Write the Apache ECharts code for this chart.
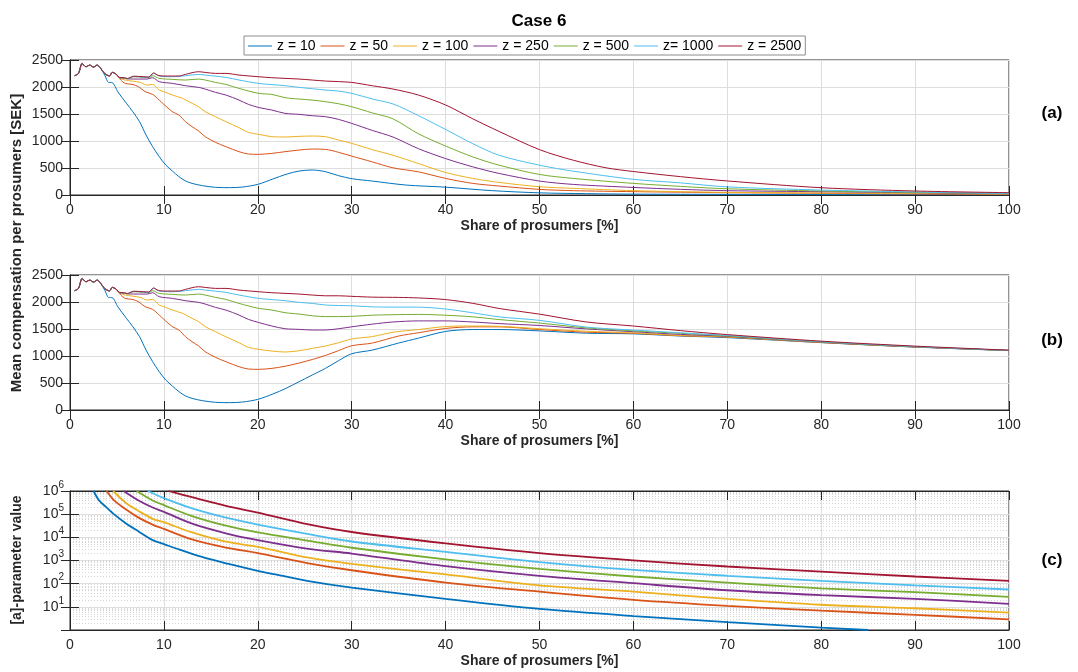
<!DOCTYPE html>
<html><head><meta charset="utf-8">
<script src="https://cdn.jsdelivr.net/npm/echarts@6/dist/echarts.min.js"></script>
<style>html,body{margin:0;padding:0;background:#fff}#chart{width:1078px;height:672px}</style>
</head><body><div id="chart"></div>
<script>
const seriesNames = ['z = 10','z = 50','z = 100','z = 250','z = 500','z= 1000','z = 2500'];
const colors = ['#0072BD','#D95319','#EDB120','#7E2F8E','#77AC30','#4DBEEE','#A2142F'];

// shared start of every curve (panels a and b)
const commonStart = [[0.5,2210],[0.9,2250],[1.3,2435],[1.7,2375],[2.1,2405],[2.5,2370],[2.9,2405],[3.2,2360]];
const mixEarly = [[3.7,2250],[4.2,2205],[4.5,2270],[4.9,2240]];

// z = 10
const z10Early = [[3.7,2220],[4.1,2085],[4.5,2080],[5.1,1910],[6.0,1700],[6.7,1540],[7.4,1360],[8.1,1110],[8.8,895],[9.5,710],[10.2,555],[10.9,445],[11.6,340],[12.3,260],[13.0,215],[14.1,173],[15.5,142],[17.0,136],[18.4,148],[20.0,197]];
const a_z10 = [[21.6,296],[23.0,383],[24.4,444],[25.8,463],[27.2,432],[28.6,358],[30.1,300],[32.2,258],[35.8,184],[40,145],[45,80],[50,40],[55,25],[60,16],[70,12],[80,7],[90,6],[100,5]];
const b_z10 = [[21.6,296],[23.0,401],[24.4,524],[25.8,648],[27.2,771],[28.6,913],[30,1042],[32.2,1110],[35,1240],[37.1,1330],[40,1455],[42.9,1490],[45.7,1490],[50,1465],[55,1422],[60,1410],[65,1370],[70,1340],[80,1248],[90,1165],[100,1100]];
// z = 50
const z50Early = [[5.4,2130],[5.9,2065],[6.6,2050],[7.3,2005],[8.0,1913],[8.8,1863],[9.5,1758],[10,1678],[10.9,1543],[11.6,1481],[12.3,1357],[13.0,1265],[13.7,1185],[14.4,1080],[15.5,975],[16.6,895],[18.0,802],[19.0,759],[20.1,753]];
const a_z50 = [[21.5,771],[22.9,802],[24.4,833],[25.8,851],[27.2,845],[28.6,790],[30,720],[32.2,613],[34.4,503],[37.1,429],[40,307],[42.9,215],[45.7,166],[50,104],[53.6,80],[60,62],[65,52],[70,43],[80,31],[90,18],[100,12]];
const b_z50 = [[21.5,771],[22.9,810],[24.4,870],[25.8,935],[27.2,1010],[28.6,1100],[30,1190],[32.2,1240],[35,1370],[37.1,1430],[40,1510],[42.9,1540],[45.7,1540],[50,1490],[55,1441],[60,1420],[65,1375],[70,1350],[80,1250],[90,1168],[100,1103]];
// z = 100
const z100Early = [[5.3,2160],[5.9,2129],[6.6,2110],[7.5,2085],[8.2,2036],[8.8,2048],[9.5,1944],[10,1913],[10.9,1851],[12.0,1789],[13.0,1697],[13.7,1635],[14.4,1543],[15.5,1450],[16.6,1357],[18.0,1246],[19.0,1160],[20.1,1123]];
const a_z100 = [[21.5,1080],[22.9,1074],[24.4,1086],[25.8,1092],[27.2,1080],[28.6,1018],[30,956],[32.2,840],[34.4,736],[37.1,583],[40,417],[42.9,307],[45.7,233],[50,153],[53.6,123],[60,80],[65,62],[70,49],[80,37],[90,31],[100,18]];
const b_z100 = [[21.5,1092],[22.9,1074],[24.4,1098],[25.8,1141],[27.2,1185],[28.6,1246],[30,1315],[32.2,1360],[34.4,1440],[37.1,1490],[40,1545],[42.9,1555],[45.7,1550],[50,1505],[55,1459],[60,1428],[65,1380],[70,1355],[80,1252],[90,1168],[100,1103]];
// z = 250
const z250Early = [[5.3,2170],[5.8,2165],[6.2,2150],[7.3,2147],[8.2,2147],[8.8,2172],[9.5,2098],[10.9,2067],[12.3,2024],[13.7,1993],[14.4,1962],[15.5,1900],[16.6,1851],[18.0,1758],[19.0,1678],[20.1,1620]];
const a_z250 = [[21.5,1573],[22.9,1512],[24.4,1493],[25.8,1468],[27.2,1450],[28.6,1400],[30,1326],[32.2,1196],[34.4,1073],[37.1,858],[40,674],[42.9,521],[45.7,399],[50,258],[53.6,196],[60,140],[65,105],[70,80],[80,61],[90,43],[100,25]];
const b_z250 = [[21.5,1555],[22.9,1505],[24.4,1493],[25.8,1481],[27.2,1481],[28.6,1505],[30,1540],[32.2,1590],[34.4,1630],[37.1,1650],[40,1650],[42.9,1630],[45.7,1600],[50,1565],[55,1502],[60,1450],[65,1400],[70,1365],[80,1256],[90,1170],[100,1103]];
// z = 500
const z500Early = [[5.3,2175],[5.8,2165],[6.1,2150],[6.8,2190],[7.8,2180],[8.4,2175],[8.8,2209],[9.5,2160],[10.9,2141],[12.3,2129],[13.7,2147],[14.4,2129],[15.5,2085],[16.6,2048],[18.0,1974],[20.1,1882]];
const a_z500 = [[21.5,1863],[22.9,1802],[24.4,1777],[25.8,1758],[27.2,1728],[28.6,1690],[30,1635],[32.2,1520],[34.4,1410],[37.1,1134],[40,907],[42.9,705],[45.7,552],[50,380],[53.6,307],[60,215],[65,160],[70,115],[80,74],[90,49],[100,31]];
const b_z500 = [[21.5,1851],[22.9,1802],[24.4,1777],[25.8,1745],[27.2,1730],[28.6,1730],[30,1735],[32.2,1755],[34.4,1765],[37.1,1770],[40,1755],[42.9,1725],[45.7,1675],[50,1610],[55,1520],[60,1465],[65,1420],[70,1372],[80,1260],[90,1172],[100,1103]];
// z = 1000
const z1000Early = [[5.3,2175],[5.8,2168],[6.1,2155],[6.8,2195],[7.8,2185],[8.4,2180],[8.9,2255],[9.4,2210],[10.0,2195],[10.9,2190],[12.3,2209],[13.7,2234],[14.4,2221],[16.6,2178],[18,2129],[20.1,2067]];
const a_z1000 = [[22.9,2024],[24.4,1993],[27.2,1944],[28.6,1925],[30,1882],[32.2,1778],[34.4,1686],[37.1,1471],[40,1214],[42.9,950],[45.7,736],[50,552],[53.6,441],[60,290],[65,225],[70,150],[80,92],[90,55],[100,25]];
const b_z1000 = [[22.9,2024],[24.4,1993],[25.8,1974],[27.2,1944],[28.6,1935],[30,1930],[32.2,1910],[34.4,1905],[37.1,1905],[40,1870],[42.9,1800],[45.7,1725],[50,1660],[55,1535],[60,1480],[65,1430],[70,1380],[80,1265],[90,1175],[100,1103]];
// z = 2500
const z2500Early = [[5.3,2175],[5.8,2170],[6.1,2158],[6.8,2200],[7.8,2190],[8.4,2185],[8.9,2260],[9.4,2215],[10,2203],[11.6,2203],[12.3,2234],[13.7,2283],[14.4,2270],[15.5,2252],[16.6,2252],[18,2221],[20.1,2190]];
const a_z2500 = [[21.5,2172],[22.9,2160],[24.4,2147],[25.8,2129],[27.2,2110],[28.6,2100],[30,2085],[32.2,2023],[34.4,1962],[37.1,1851],[40,1667],[42.9,1410],[45.7,1177],[50,840],[53.6,644],[57.1,503],[60,435],[65,340],[70,260],[80,135],[90,74],[100,43]];
const b_z2500 = [[21.5,2172],[22.9,2160],[24.4,2147],[25.8,2129],[27.2,2115],[28.6,2115],[30,2105],[32.2,2090],[35,2085],[37.1,2075],[40,2045],[42.9,1975],[45.7,1880],[50,1775],[55,1630],[60,1555],[65,1470],[70,1396],[80,1275],[90,1183],[100,1108]];

// panel (c): a-parameter values (log axis)
const c_z10 = [[2.5,1e6],[3.1,3.9e5],[3.8,2.1e5],[4.7,9.8e4],[5.9,4.2e4],[7.3,1.8e4],[8.8,7.6e3],[10,5.1e3],[11.6,3.0e3],[13,1.95e3],[14.8,1.17e3],[16.6,760],[20,355],[21.9,250],[25.4,130],[30,68],[40,22],[50,8.1],[60,4.0],[70,2.2],[80,1.26],[85,1.0]];
const c_z50 = [[3.9,1e6],[4.7,3.9e5],[5.9,1.66e5],[7.3,7.1e4],[8.8,3.55e4],[10,2.3e4],[13,8.1e3],[16.6,3.6e3],[20,2.1e3],[25.4,760],[30,380],[40,112],[50,45],[60,20],[70,11],[80,6.9],[90,4.5],[100,2.9]];
const c_z100 = [[4.6,1e6],[5.9,3.2e5],[7.3,1.38e5],[8.8,6.3e4],[10,4.5e4],[13,1.62e4],[16.6,6.5e3],[20,3.9e3],[25.4,1.32e3],[30,710],[40,250],[50,85],[60,45],[70,22],[80,12.3],[90,8.7],[100,5.6]];
const c_z250 = [[5.7,1e6],[7.3,3.9e5],[8.8,1.95e5],[10,1.26e5],[13,3.9e4],[16.6,1.5e4],[20,7.6e3],[25.4,3.2e3],[30,2.0e3],[40,575],[50,219],[60,105],[70,52],[80,32],[90,22],[100,13.5]];
const c_z500 = [[7.1,1e6],[8.8,3.9e5],[10,2.45e5],[13,8.3e4],[16.6,3.2e4],[20,1.62e4],[25.4,7.1e3],[30,3.55e3],[40,1.12e3],[50,436],[60,204],[70,112],[80,63],[90,43],[100,27]];
const c_z1000 = [[8.3,1e6],[10,4.9e5],[13,1.78e5],[16.6,7.1e4],[20,3.55e4],[25.4,1.38e4],[30,6.6e3],[40,2.35e3],[50,850],[60,390],[70,219],[80,132],[90,85],[100,56]];
const c_z2500 = [[10.5,1e6],[13,5.4e5],[16.6,2.3e5],[20,1.17e5],[25.4,3.6e4],[30,1.7e4],[40,5.5e3],[50,2.1e3],[60,1.02e3],[70,550],[80,330],[90,204],[100,132]];

const panelA = [
  commonStart.concat(z10Early, a_z10),
  commonStart.concat(mixEarly, z50Early, a_z50),
  commonStart.concat(mixEarly, z100Early, a_z100),
  commonStart.concat(mixEarly, z250Early, a_z250),
  commonStart.concat(mixEarly, z500Early, a_z500),
  commonStart.concat(mixEarly, z1000Early, a_z1000),
  commonStart.concat(mixEarly, z2500Early, a_z2500)
];
const panelB = [
  commonStart.concat(z10Early, b_z10),
  commonStart.concat(mixEarly, z50Early, b_z50),
  commonStart.concat(mixEarly, z100Early, b_z100),
  commonStart.concat(mixEarly, z250Early, b_z250),
  commonStart.concat(mixEarly, z500Early, b_z500),
  commonStart.concat(mixEarly, z1000Early, b_z1000),
  commonStart.concat(mixEarly, z2500Early, b_z2500)
];
const panelC = [c_z10, c_z50, c_z100, c_z250, c_z500, c_z1000, c_z2500];

const FONT = 'Liberation Sans, Arial, Helvetica, sans-serif';
const INK = '#262626';
const GRIDC = '#dedede';
const grids = [
  {left:70, top:60, width:939, height:135},
  {left:70, top:275, width:939, height:135},
  {left:70, top:491, width:939, height:139}
].map(g => Object.assign(g, {show:true, borderColor:INK, borderWidth:1, backgroundColor:'#fff'}));

const xAxes = [], yAxes = [];
for (let i = 0; i < 3; i++) {
  xAxes.push({type:'value', gridIndex:i, min:0, max:100, interval:10, position:'bottom',
    axisLine:{show:true, lineStyle:{color:INK}}, axisTick:{inside:true, length:9, lineStyle:{color:INK}},
    splitLine:{show:true, lineStyle:{color:GRIDC}},
    axisLabel:{fontFamily:FONT, fontSize:14, color:INK, margin:8},
    name:'Share of prosumers [%]', nameLocation:'middle', nameGap:24,
    nameTextStyle:{fontFamily:FONT, fontSize:14, fontWeight:'bold', color:INK}});
  xAxes.push({type:'value', gridIndex:i, min:0, max:100, interval:10, position:'top',
    axisLine:{show:true, lineStyle:{color:INK}}, axisTick:{inside:true, length:9, lineStyle:{color:INK}},
    splitLine:{show:false}, axisLabel:{show:false}});
}
for (let i = 0; i < 2; i++) {
  yAxes.push({type:'value', gridIndex:i, min:0, max:2500, interval:500, position:'left',
    axisLine:{show:true, lineStyle:{color:INK}}, axisTick:{show:true, inside:true, length:9, lineStyle:{color:INK}},
    splitLine:{show:true, lineStyle:{color:GRIDC}},
    axisLabel:{fontFamily:FONT, fontSize:14, color:INK, margin:7, formatter: v => String(v)}});
  yAxes.push({type:'value', gridIndex:i, min:0, max:2500, interval:500, position:'right',
    axisLine:{show:true, lineStyle:{color:INK}}, axisTick:{show:true, inside:true, length:9, lineStyle:{color:INK}},
    splitLine:{show:false}, axisLabel:{show:false}});
}
yAxes.push({type:'log', logBase:10, gridIndex:2, min:1, max:1e6, position:'left',
  axisLine:{show:true, lineStyle:{color:INK}}, axisTick:{show:true, inside:true, length:9, lineStyle:{color:INK}},
  splitLine:{show:true, lineStyle:{color:GRIDC}},
  axisLabel:{margin:6, color:INK,
    formatter: v => { if (v <= 1) return ''; const e = Math.round(Math.log10(v)); return '{b|10}{s|' + e + '}'; },
    rich:{b:{fontFamily:FONT, fontSize:14, color:INK, lineHeight:16},
          s:{fontFamily:FONT, fontSize:10, color:INK, lineHeight:10, padding:[0,0,12,0]}}}});
yAxes.push({type:'log', logBase:10, gridIndex:2, min:1, max:1e6, position:'right',
  axisLine:{show:true, lineStyle:{color:INK}}, axisTick:{show:true, inside:true, length:9, lineStyle:{color:INK}},
  splitLine:{show:false}, axisLabel:{show:false}});

// minor log gridlines (2..9 x 10^k)
const minorLines = [];
for (let k = 0; k < 6; k++) for (let m = 2; m <= 9; m++) minorLines.push({yAxis: m * Math.pow(10, k)});

const series = [];
series.push({type:'line', name:'__minor', xAxisIndex:4, yAxisIndex:4, data:[], silent:true, z:0, zlevel:0,
  markLine:{silent:true, symbol:['none','none'], label:{show:false}, z:0,
    lineStyle:{color:'#d6d6d6', type:[1,2], width:1}, animation:false, data:minorLines}});
for (let s = 0; s < 7; s++) {
  series.push({type:'line', name:seriesNames[s], xAxisIndex:0, yAxisIndex:0, data:panelA[s], z:3,
    showSymbol:false, symbol:'none', smooth:0.3, lineStyle:{width:1, color:colors[s]}, itemStyle:{color:colors[s]}, animation:false});
}
for (let s = 0; s < 7; s++) {
  series.push({type:'line', name:seriesNames[s], xAxisIndex:2, yAxisIndex:2, data:panelB[s], z:3,
    showSymbol:false, symbol:'none', smooth:0.3, lineStyle:{width:1, color:colors[s]}, itemStyle:{color:colors[s]}, animation:false});
}
for (let s = 0; s < 7; s++) {
  series.push({type:'line', name:seriesNames[s], xAxisIndex:4, yAxisIndex:4, data:panelC[s], z:5,
    showSymbol:false, symbol:'none', smooth:0.3, lineStyle:{width:1.8, color:colors[s]}, itemStyle:{color:colors[s]}, animation:false});
}

const chart = echarts.init(document.getElementById('chart'), null, {renderer:'canvas'});
chart.setOption({
  backgroundColor:'#fff',
  animation:false,
  title:{text:'Case 6', left:'center', top:8, textStyle:{fontFamily:FONT, fontSize:17, fontWeight:'bold', color:'#000'}},
  legend:{data:seriesNames, left:244, top:36, icon:'rect', itemWidth:24, itemHeight:1, itemGap:5,
    padding:[3,4,2,4], borderColor:'#8c8c8c', borderWidth:1, backgroundColor:'#fff',
    textStyle:{fontFamily:FONT, fontSize:14, color:'#000'}},
  grid:grids, xAxis:xAxes, yAxis:yAxes, series:series,
  graphic:[
    {type:'text', x:17, y:243, rotation:Math.PI/2, style:{text:'Mean compensation per prosumers [SEK]', font:'bold 15px ' + FONT, fill:INK, align:'center', verticalAlign:'middle'}},
    {type:'text', x:17, y:560, rotation:Math.PI/2, style:{text:'[a]-parameter value', font:'bold 14px ' + FONT, fill:INK, align:'center', verticalAlign:'middle'}},
    {type:'text', x:1052, y:113, style:{text:'(a)', font:'bold 17px ' + FONT, fill:'#000', align:'center', verticalAlign:'middle'}},
    {type:'text', x:1052, y:340, style:{text:'(b)', font:'bold 17px ' + FONT, fill:'#000', align:'center', verticalAlign:'middle'}},
    {type:'text', x:1052, y:560, style:{text:'(c)', font:'bold 17px ' + FONT, fill:'#000', align:'center', verticalAlign:'middle'}}
  ]
});
</script></body></html>
